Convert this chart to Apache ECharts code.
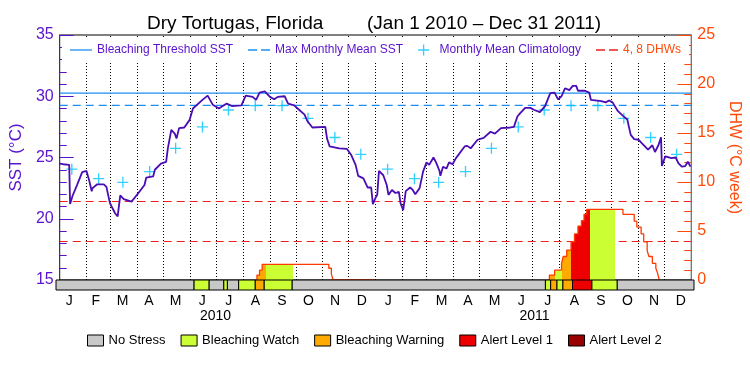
<!DOCTYPE html>
<html><head><meta charset="utf-8">
<script src="https://cdn.jsdelivr.net/npm/echarts@6/dist/echarts.min.js"></script>
<style>html,body{margin:0;padding:0;background:#fff}#c{width:750px;height:375px}</style>
</head><body><div id="c"></div>
<script>
// ---------- data ----------
const sstDates = ['2010-01-01','2010-01-05','2010-01-12','2010-01-13','2010-01-16','2010-01-21','2010-01-27','2010-02-01','2010-02-04','2010-02-07','2010-02-08','2010-02-13','2010-02-21','2010-02-24','2010-02-28','2010-03-02','2010-03-06','2010-03-09','2010-03-12','2010-03-16','2010-03-25','2010-04-02','2010-04-09','2010-04-11','2010-04-19','2010-04-21','2010-04-28','2010-05-04','2010-05-06','2010-05-10','2010-05-14','2010-05-16','2010-05-19','2010-05-25','2010-05-31','2010-06-04','2010-06-15','2010-06-21','2010-06-23','2010-06-27','2010-07-04','2010-07-06','2010-07-13','2010-07-19','2010-07-30','2010-08-04','2010-08-12','2010-08-16','2010-08-20','2010-08-26','2010-09-01','2010-09-06','2010-09-10','2010-09-18','2010-09-22','2010-09-29','2010-10-03','2010-10-11','2010-10-14','2010-10-20','2010-11-04','2010-11-06','2010-11-09','2010-11-20','2010-11-29','2010-12-01','2010-12-04','2010-12-09','2010-12-12','2010-12-18','2010-12-23','2010-12-27','2010-12-29',
'2011-01-01','2011-01-03','2011-01-05','2011-01-10','2011-01-14','2011-01-16','2011-01-20','2011-01-24','2011-01-28','2011-01-30','2011-02-02','2011-02-05','2011-02-10','2011-02-13','2011-02-16','2011-02-21','2011-02-25','2011-03-01','2011-03-04','2011-03-09','2011-03-12','2011-03-16','2011-03-17','2011-03-20','2011-03-24','2011-03-27','2011-03-31','2011-04-04','2011-04-14','2011-04-17','2011-04-21','2011-04-29','2011-05-06','2011-05-14','2011-05-19','2011-05-26','2011-06-06','2011-06-10','2011-06-14','2011-06-17','2011-06-23','2011-06-29','2011-07-03','2011-07-10','2011-07-16','2011-07-22','2011-07-27','2011-07-31','2011-08-04','2011-08-08','2011-08-13','2011-08-17','2011-08-21','2011-08-23','2011-08-31','2011-09-05','2011-09-07','2011-09-19','2011-09-24','2011-09-28','2011-10-02','2011-10-08','2011-10-14','2011-10-19','2011-10-23','2011-10-27','2011-11-01','2011-11-05','2011-11-12','2011-11-17','2011-11-20','2011-11-24','2011-11-27','2011-11-28','2011-12-02','2011-12-09','2011-12-14','2011-12-17','2011-12-21','2011-12-25','2011-12-28','2011-12-31'];
const sstValues = [24.5,24.45,24.4,21.2,21.9,22.75,23.8,23.9,23.15,22.25,22.5,22.8,22.8,22.6,21.3,21.0,20.45,20.2,21.9,21.6,21.4,22.1,22.75,23.35,23.45,24.0,24.5,24.65,25.75,27.25,26.95,26.55,27.4,27.45,28.05,29.0,29.7,30.05,29.95,29.3,29.0,28.9,29.4,29.2,29.25,30.05,29.95,29.7,30.3,30.4,29.95,29.75,29.95,30.0,29.4,29.25,29.0,28.5,28.0,27.45,27.5,26.55,25.9,25.75,25.7,25.8,25.2,24.4,23.5,23.3,22.55,22.55,21.2,
21.7,21.95,23.9,23.55,22.75,21.95,22.35,22.1,22.2,21.25,20.7,22.25,22.55,22.35,22.0,22.5,23.85,24.6,24.4,25.0,24.6,23.9,23.5,24.25,24.1,24.6,24.45,24.95,25.9,25.95,25.75,26.45,26.6,27.1,26.95,27.4,27.45,27.5,28.35,28.6,29.05,29.05,28.9,28.7,29.2,30.25,30.3,29.75,30.0,30.65,30.5,30.85,30.85,30.45,30.45,30.3,29.7,29.6,29.5,29.65,29.5,28.8,28.4,28.1,26.85,26.5,26.45,26.15,25.65,26.0,25.45,26.0,26.65,24.3,25.1,24.95,25.0,24.55,24.25,24.3,24.65,24.25];

const years = ['2010','2011'];
const monthLetters = ['J','F','M','A','M','J','J','A','S','O','N','D'];
const climValues = [24.05,23.27,22.97,23.85,25.75,27.5,28.88,29.23,29.23,28.2,26.63,25.26];
const mmmSST = 29.25;
const thresholdSST = 30.25;
const dhwLevels = [4, 8];

const dhwDates = ['2010-08-17','2010-08-17','2010-08-20','2010-08-23','2010-11-08','2010-11-11','2010-11-13','2011-01-01',
'2011-07-21','2011-07-21','2011-07-27','2011-08-04','2011-08-06','2011-08-10','2011-08-15','2011-08-19','2011-08-23','2011-08-27','2011-08-30','2011-09-02','2011-10-14','2011-10-27','2011-10-30','2011-11-04','2011-11-07','2011-11-11','2011-11-13','2011-11-17','2011-11-21','2011-11-23','2011-11-25'];
const dhwValues = [0,0.5,1.0,1.6,1.2,0.6,0,null,
0,0.5,1.0,1.7,2.4,3.05,3.9,4.7,5.5,6.05,6.7,7.2,6.7,6.0,5.4,4.7,3.9,3.0,2.4,1.7,1.2,0.7,0];

const stressDates = ['2010-01-01','2010-06-08','2010-06-25','2010-07-12','2010-07-16','2010-07-29','2010-08-17','2010-08-27','2010-09-28','2011-07-15','2011-07-21','2011-07-28','2011-08-04','2011-08-15','2011-09-06','2011-10-05'];
const stressLevels = [0,1,0,1,0,1,2,1,0,1,2,1,2,3,1,0];
const stressNames = ['No Stress','Bleaching Watch','Bleaching Warning','Alert Level 1','Alert Level 2'];

// ---------- styles ----------
const stressColors = ['#c8c8c8','#ccff33','#ffaa00','#ee0000','#990000'];
const PURPLE = '#5a12cc', SSTLINE = '#4a0cb4', ORANGE = '#ff4a0a', BLUE = '#1c8ef0', CYAN = '#00c4ff', RED = '#ee2020', DHWLINE = '#ff3a00';
const FONT = '"Liberation Sans", Arial, sans-serif';

const ts = s => { const p = s.split('-').map(Number); return new Date(p[0], p[1]-1, p[2]).getTime(); };
const xStart = ts('2010-01-01'), xEnd = ts('2012-01-01');

const sstData = sstDates.map((d,i)=>[ts(d), sstValues[i]]);
const climData = [];
years.forEach(y => climValues.forEach((v,m)=>climData.push([new Date(+y, m, 15).getTime(), v])));
const dhwData = dhwDates.map((d,i)=>[ts(d), dhwValues[i] === null ? '-' : dhwValues[i]]);
const monthStarts = [];
years.forEach(y => { for (let m=0;m<12;m++){ if (y==='2010' && m===0) continue; monthStarts.push(new Date(+y, m, 1).getTime()); } });
const segments = stressDates.map((d,i)=>({start: ts(d), end: i+1<stressDates.length ? ts(stressDates[i+1]) : xEnd, level: stressLevels[i]}));
const monthCats = [];
years.forEach(y => monthLetters.forEach((l,i)=>monthCats.push(y+'-'+i)));

const pieces = segments.map(s=>({gte:s.start, lt:s.end, color: s.level===0 ? 'rgba(0,0,0,0)' : stressColors[s.level]}));

const plusPath = 'path://M4.4,0H5.6V4.4H10V5.6H5.6V10H4.4V5.6H0V4.4H4.4Z';
const solidIcon = 'path://M0,0H22V1.3H0Z';
const dashIcon = 'path://M0,0H9V1.3H0ZM13,0H22V1.3H13Z';

const stressSeries = stressNames.map((name, lv)=>({
  name, type:'custom', xAxisIndex:1, yAxisIndex:2, z:6,
  itemStyle:{color: stressColors[lv]},
  encode:{x:[0,1], y:2},
  data: segments.filter(s=>s.level===lv).map(s=>[s.start, s.end, 0]),
  renderItem:(params, api)=>{
    const a = api.coord([api.value(0), 0]);
    const b = api.coord([api.value(1), 1]);
    return {type:'rect', shape:{x:a[0], y:b[1], width:b[0]-a[0], height:a[1]-b[1]},
      style:{fill: stressColors[lv], stroke:'#000', lineWidth:1}};
  }
}));

const titleStyle = {fontSize:19, fontWeight:'normal', color:'#000', fontFamily:FONT};
const option = {
  animation:false,
  backgroundColor:'#fff',
  textStyle:{fontFamily:FONT},
  title:[
    {text:'Dry Tortugas, Florida', left:142, top:9, textStyle:titleStyle},
    {text:'(Jan 1 2010 – Dec 31 2011)', left:362, top:9, textStyle:titleStyle}
  ],
  legend:[
    {data:[
      {name:'Bleaching Threshold SST', icon:solidIcon, textStyle:{color:PURPLE}},
      {name:'Max Monthly Mean SST', icon:dashIcon, textStyle:{color:PURPLE}},
      {name:'Monthly Mean Climatology', icon:plusPath, textStyle:{color:PURPLE}},
      {name:'4, 8 DHWs', icon:dashIcon, textStyle:{color:ORANGE}}
    ], left:62, top:37, padding:[7,8,5,8], itemGap:15, itemWidth:22, itemHeight:11, z:20,
      backgroundColor:'#fff', selectedMode:false, textStyle:{fontSize:12, fontFamily:FONT}},
    {data: stressNames, left:82, top:329, itemGap:15, itemWidth:16, itemHeight:11, icon:'rect',
      itemStyle:{borderColor:'#000', borderWidth:1}, selectedMode:false,
      textStyle:{fontSize:13, color:'#000', fontFamily:FONT}}
  ],
  visualMap:{type:'piecewise', show:false, seriesIndex:4, dimension:0, pieces, outOfRange:{color:'rgba(0,0,0,0)'}},
  grid:[
    {left:56, right:56, top:35, bottom:95, show:true, borderColor:'#000', borderWidth:1, backgroundColor:'transparent'},
    {left:56, right:56, top:280, height:10}
  ],
  xAxis:[
    {type:'time', gridIndex:0, min:xStart, max:xEnd, show:false},
    {type:'time', gridIndex:1, min:xStart, max:xEnd, show:false},
    {type:'category', gridIndex:1, position:'bottom', data:monthCats, boundaryGap:true,
      axisLine:{show:false}, axisTick:{show:false}, splitLine:{show:false},
      axisLabel:{interval:0, color:'#000', fontSize:14, margin:4, fontFamily:FONT, formatter:v=>monthLetters[+v.split('-')[1]]}},
    {type:'category', gridIndex:1, position:'bottom', offset:15, data:years, boundaryGap:true,
      axisLine:{show:false}, axisTick:{show:false}, splitLine:{show:false},
      axisLabel:{interval:0, color:'#000', fontSize:14, margin:4, fontFamily:FONT}}
  ],
  yAxis:[
    {type:'value', gridIndex:0, position:'left', min:15, max:35, interval:5,
      name:'SST (°C)', nameLocation:'middle', nameGap:33, nameRotate:90,
      nameTextStyle:{color:PURPLE, fontSize:17, fontFamily:FONT},
      axisLine:{show:true, lineStyle:{color:PURPLE, width:1}},
      axisTick:{show:true, inside:true, length:14, lineStyle:{color:PURPLE}},
      minorTick:{show:true, splitNumber:5, length:7, lineStyle:{color:PURPLE}},
      splitLine:{show:false},
      axisLabel:{color:PURPLE, fontSize:16, margin:6, fontFamily:FONT}},
    {type:'value', gridIndex:0, position:'right', min:0, max:25, interval:5,
      name:'DHW (°C week)', nameLocation:'middle', nameGap:32, nameRotate:-90,
      nameTextStyle:{color:ORANGE, fontSize:16, fontFamily:FONT},
      axisLine:{show:true, lineStyle:{color:ORANGE, width:1}},
      axisTick:{show:true, inside:true, length:14, lineStyle:{color:ORANGE}},
      minorTick:{show:true, splitNumber:5, length:7, lineStyle:{color:ORANGE}},
      splitLine:{show:false},
      axisLabel:{color:ORANGE, fontSize:16, margin:6, fontFamily:FONT}},
    {type:'value', gridIndex:1, min:0, max:1, show:false}
  ],
  series:[
    {type:'line', xAxisIndex:0, yAxisIndex:0, data:[], z:1, silent:true,
      markLine:{silent:true, z:1, symbol:['none','none'], label:{show:false}, animation:false,
        lineStyle:{color:'#000', type:[1,2], width:1},
        data: monthStarts.map(t=>({xAxis:t}))}},
    {name:'Bleaching Threshold SST', type:'line', xAxisIndex:0, yAxisIndex:0, symbol:'none', z:3,
      color:BLUE, lineStyle:{color:BLUE, width:1.2},
      data:[[xStart, thresholdSST],[xEnd, thresholdSST]]},
    {name:'Max Monthly Mean SST', type:'line', xAxisIndex:0, yAxisIndex:0, symbol:'none', z:3,
      color:BLUE, lineStyle:{color:BLUE, width:1.2, type:[8,5]},
      data:[[xStart, mmmSST],[xEnd, mmmSST]]},
    {name:'4, 8 DHWs', type:'line', xAxisIndex:0, yAxisIndex:1, symbol:'none', z:1, data:[],
      color:RED, lineStyle:{color:RED, width:1.2, type:[8,5]},
      markLine:{silent:true, z:1, symbol:['none','none'], label:{show:false}, animation:false,
        lineStyle:{color:RED, width:1.2, type:[8,5]},
        data: dhwLevels.map(v=>({yAxis:v}))}},
    {type:'line', xAxisIndex:0, yAxisIndex:1, step:'end', symbol:'none', z:2, silent:true,
      data:dhwData, lineStyle:{width:0, opacity:0}, areaStyle:{opacity:1}},
    {type:'line', xAxisIndex:0, yAxisIndex:1, step:'end', symbol:'none', z:4, silent:true,
      data:dhwData, color:DHWLINE, lineStyle:{color:DHWLINE, width:1.3}},
    {name:'Monthly Mean Climatology', type:'scatter', xAxisIndex:0, yAxisIndex:0, z:5,
      symbol:plusPath, symbolSize:11, color:CYAN, itemStyle:{color:CYAN}, data:climData},
    {type:'line', xAxisIndex:0, yAxisIndex:0, symbol:'none', z:6, silent:true,
      data:sstData, color:SSTLINE, lineStyle:{color:SSTLINE, width:1.8}}
  ].concat(stressSeries)
};

const chart = echarts.init(document.getElementById('c'), null, {renderer:'canvas'});
chart.setOption(option);
</script>
</body></html>
